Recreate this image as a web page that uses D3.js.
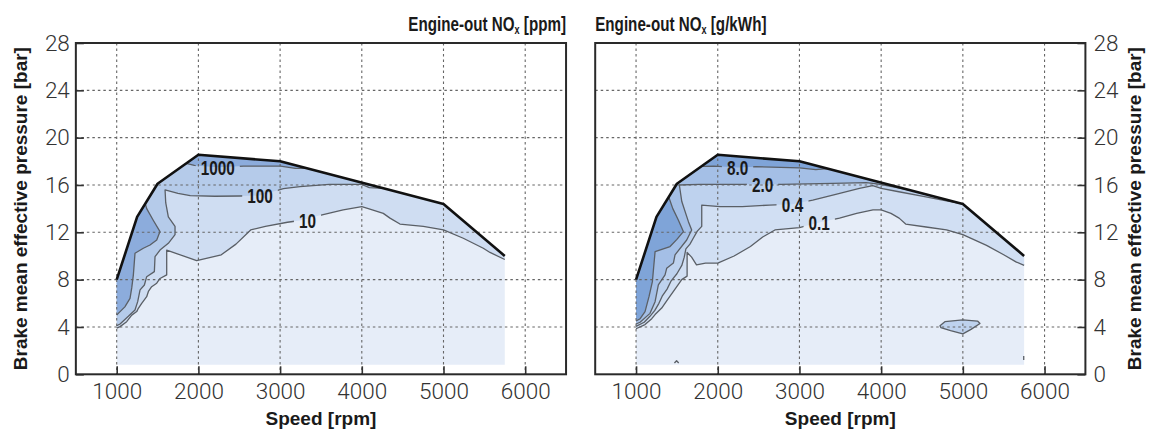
<!DOCTYPE html>
<html>
<head>
<meta charset="utf-8">
<script src="https://cdn.jsdelivr.net/npm/d3@7"></script>
<style>
  body { margin: 0; background: #fff; }
  svg { display: block; }
</style>
</head>
<body>
<svg id="chart" width="1155" height="430"></svg>
<script>
// ---- Engine map envelope (speed [rpm], BMEP [bar]) ----
const fullLoad = [[1000, 8.0], [1250, 13.3], [1500, 16.1], [2000, 18.55], [3000, 18.0], [5000, 14.4], [5750, 10.0]];
const mapFloor = 0.8;
const speedTicks = [1000, 2000, 3000, 4000, 5000, 6000];
const bmepTicks = [0, 4, 8, 12, 16, 20, 24, 28];

// ---- Engine-out NOx [ppm] iso-lines ----
const ppm10 = [[1000, 3.9], [1041, 4.03], [1122, 4.45], [1184, 5.0], [1245, 5.3], [1265, 5.58], [1306, 6.0], [1367, 6.56], [1388, 7.0], [1428, 7.4], [1490, 7.7], [1530, 8.1], [1612, 8.4], [1612, 10.5], [1979, 9.6], [2280, 10.1], [2460, 11.0], [2640, 12.2], [2820, 12.5], [3090, 12.85], [3244, 13.0], [3527, 13.5], [3772, 13.9], [4000, 14.17], [4080, 14.0], [4263, 13.6], [4345, 13.2], [4467, 12.7], [4753, 12.5], [5000, 12.2], [5242, 11.5], [5487, 10.65], [5569, 10.3], [5750, 9.7]];
const ppm100 = [[1000, 4.1], [1041, 4.25], [1143, 4.9], [1224, 5.44], [1257, 6.14], [1286, 7.13], [1339, 7.55], [1367, 8.25], [1461, 8.68], [1469, 9.94], [1530, 10.5], [1632, 11.07], [1714, 11.8], [1714, 12.5], [1632, 13.3], [1600, 14.5], [1592, 15.58], [1750, 15.3], [1900, 15.1], [2200, 15.05], [2509, 15.07], [2754, 15.11], [3040, 15.7], [3244, 15.86], [3600, 16.05], [4000, 16.05], [4092, 15.77], [4272, 15.71]];
const ppm1000Low = [[1350, 14.42], [1367, 14.0], [1449, 13.0], [1530, 12.06], [1490, 11.35], [1408, 10.93], [1326, 10.65], [1224, 10.23], [1204, 8.4], [1184, 7.3], [1163, 6.42], [1100, 5.7], [1020, 5.15], [1000, 5.0]];
const ppm1000Top = [[1850, 17.82], [1950, 17.65], [2237, 17.5], [2555, 17.6], [3006, 17.6], [3187, 17.4], [3330, 17.41]];
const ppmLabels = ["10", "100", "1000"];
const ppmLabelAt = [[3335, 13.04], [2754, 15.11], [2237, 17.48]];
const ppmColors = ["#e6edf8", "#cfddf2", "#b5cbea", "#8cacdc"];

// ---- Engine-out NOx [g/kWh] iso-lines ----
const gkwh01 = [[1000, 3.85], [1110, 4.2], [1192, 4.7], [1233, 5.05], [1314, 5.6], [1375, 6.2], [1477, 7.2], [1559, 8.0], [1625, 8.3], [1625, 10.3], [1680, 9.9], [1740, 9.25], [1850, 9.4], [2000, 9.4], [2200, 10.0], [2400, 10.8], [2550, 11.6], [2700, 12.2], [3000, 12.4], [3242, 12.83], [3490, 13.2], [3700, 13.6], [3900, 13.9], [4000, 13.9], [4120, 13.6], [4220, 13.2], [4300, 12.7], [4550, 12.45], [4800, 12.2], [5000, 11.8], [5290, 10.9], [5500, 10.1], [5650, 9.5], [5750, 9.2]];
const gkwh01Island = [[4720, 4.1], [4780, 4.45], [5000, 4.6], [5180, 4.5], [5210, 4.3], [5100, 3.8], [5000, 3.42], [4850, 3.7], [4730, 3.95]];
const gkwh01Bits = [[[1470, 0.95], [1496, 1.15], [1522, 0.95]], [[5745, 1.2], [5745, 1.55]]];
const gkwh04 = [[1000, 4.05], [1100, 4.4], [1170, 4.9], [1230, 5.4], [1280, 6.0], [1320, 6.6], [1380, 7.2], [1430, 7.9], [1500, 8.5], [1560, 9.2], [1590, 9.9], [1610, 10.6], [1660, 11.0], [1700, 11.5], [1750, 12.1], [1804, 12.5], [1804, 14.3], [2028, 14.17], [2300, 14.17], [2632, 14.3], [2915, 14.38], [3163, 14.73], [3408, 15.15], [3734, 15.72], [3897, 15.94], [4000, 15.72], [4200, 15.45], [4500, 15.05], [4800, 14.65], [5000, 14.4]];
const gkwh20 = [[1000, 4.25], [1049, 4.4], [1171, 5.15], [1233, 6.14], [1273, 7.55], [1355, 8.4], [1375, 8.96], [1457, 9.4], [1477, 10.1], [1620, 11.35], [1681, 12.2], [1641, 12.9], [1560, 14.6], [1530, 16.0], [1776, 16.06], [2306, 16.06], [2548, 16.07], [2775, 16.06], [3408, 16.14], [3816, 16.2], [3950, 16.1], [4100, 15.9], [4350, 15.57]];
const gkwh80Low = [[1400, 14.98], [1450, 14.0], [1520, 13.0], [1579, 12.06], [1500, 11.4], [1416, 10.8], [1233, 10.37], [1215, 9.0], [1200, 7.83], [1160, 6.6], [1110, 5.3], [1050, 4.7], [1000, 4.5]];
const gkwh80Top = [[1800, 17.57], [1950, 17.6], [2242, 17.48], [2470, 17.55], [3000, 17.45], [3200, 17.3], [3340, 17.39]];
const gkwhLabels = ["0.1", "0.4", "2.0", "8.0"];
const gkwhLabelAt = [[3242, 12.83], [2915, 14.38], [2548, 16.07], [2242, 17.48]];
const gkwhColors = ["#e6edf8", "#d1dff3", "#bed2ee", "#a4bfe6", "#7fa4d8"];

// ---- layout ----
const plotTop = 43, plotBottom = 374.3, plotWidth = 490.2;
const svg = d3.select("#chart");
const defs = svg.append("defs");
const boldFont = "'Liberation Sans', Arial, sans-serif";

// close an iso-line along the full-load curve to get the region above it
function closeOnEnvelope(line) {
  const a = line[0][0], b = line[line.length - 1][0];
  const lo = Math.min(a, b), hi = Math.max(a, b);
  let env = fullLoad.filter(p => p[0] >= lo && p[0] <= hi);
  if (b > a) env = env.slice().reverse();
  return line.concat(env);
}

function drawPanel(cfg) {
  const x = d3.scaleLinear().domain([500, 6500]).range([cfg.left, cfg.left + plotWidth]);
  const y = d3.scaleLinear().domain([0, 28]).range([plotBottom, plotTop]);
  const path = d3.line().x(d => x(d[0])).y(d => y(d[1]));
  const g = svg.append("g");

  // operating area fill
  const base = [[fullLoad[0][0], mapFloor]].concat(fullLoad, [[fullLoad[fullLoad.length - 1][0], mapFloor]]);
  g.append("path").attr("d", path(base) + "Z").attr("fill", cfg.colors[0]);
  cfg.regions.forEach(r => {
    g.append("path").attr("d", path(closeOnEnvelope(r.line)) + "Z").attr("fill", cfg.colors[r.level]);
  });
  (cfg.islands || []).forEach(r => {
    g.append("path").attr("d", path(r.line) + "Z").attr("fill", cfg.colors[r.level]);
  });

  // grid
  const grid = g.append("g").attr("stroke", "#666").attr("stroke-width", 1.1)
    .attr("stroke-dasharray", "2.5,3");
  speedTicks.forEach(v => grid.append("line")
    .attr("x1", x(v)).attr("x2", x(v)).attr("y1", plotTop).attr("y2", plotBottom));
  bmepTicks.filter(v => v > 0 && v < 28).forEach(v => grid.append("line")
    .attr("x1", cfg.left).attr("x2", cfg.left + plotWidth).attr("y1", y(v)).attr("y2", y(v)));

  // iso-line labels (placed first so the lines can be cut around them)
  const labelG = svg.append("g");
  const mask = defs.append("mask").attr("id", cfg.id + "-cut")
    .attr("maskUnits", "userSpaceOnUse").attr("x", 0).attr("y", 0).attr("width", 1155).attr("height", 430);
  mask.append("rect").attr("width", 1155).attr("height", 430).attr("fill", "#fff");
  cfg.labels.forEach((txt, i) => {
    const cx = x(cfg.labelAt[i][0]), cy = y(cfg.labelAt[i][1]);
    const lg = labelG.append("g").attr("transform", `translate(${cx},${cy}) scale(0.73,1)`);
    const t = lg.append("text").attr("text-anchor", "middle").attr("dy", "0.36em")
      .attr("font-family", boldFont).attr("font-weight", "bold")
      .attr("font-size", 21).attr("fill", "#1a1a1a").text(txt);
    const w = t.node().getBBox().width * 0.73;
    mask.append("rect").attr("x", cx - w / 2 - 5).attr("y", cy - 9).attr("width", w + 10).attr("height", 18).attr("fill", "#000");
  });

  // iso-lines
  const lines = g.append("g").attr("mask", `url(#${cfg.id}-cut)`)
    .attr("fill", "none").attr("stroke", "#5a5f66").attr("stroke-width", 1.3).attr("stroke-linejoin", "round");
  cfg.regions.forEach(r => lines.append("path").attr("d", path(r.line)));
  (cfg.islands || []).forEach(r => lines.append("path").attr("d", path(r.line) + "Z"));
  (cfg.bits || []).forEach(b => lines.append("path").attr("d", path(b)));

  // full-load line
  g.append("path").attr("d", path(fullLoad)).attr("fill", "none")
    .attr("stroke", "#111").attr("stroke-width", 2.6).attr("stroke-linejoin", "round");

  labelG.raise();

  // axes
  const tickFont = sel => sel.selectAll("text")
    .attr("font-family", "Roboto, 'Open Sans', sans-serif").attr("font-weight", 300)
    .attr("font-size", 22.5).attr("fill", "#333");
  const styleTicks = sel => {
    sel.select(".domain").remove();
    sel.selectAll(".tick line").attr("stroke", "#333").attr("stroke-width", 1.6);
  };
  const fmt = d3.format("d");
  const xa = svg.append("g").attr("transform", `translate(0,${plotBottom})`)
    .call(d3.axisBottom(x).tickValues(speedTicks).tickFormat(fmt).tickSizeInner(-8).tickSizeOuter(0).tickPadding(9));
  styleTicks(xa); tickFont(xa);

  if (cfg.side === "left") {
    const ya = svg.append("g").attr("transform", `translate(${cfg.left},0)`)
      .call(d3.axisLeft(y).tickValues(bmepTicks).tickFormat(fmt).tickSizeInner(-8).tickSizeOuter(0).tickPadding(6));
    styleTicks(ya); tickFont(ya);
  } else {
    const ya = svg.append("g").attr("transform", `translate(${cfg.left + plotWidth},0)`)
      .call(d3.axisRight(y).tickValues(bmepTicks).tickFormat(fmt).tickSizeInner(-8).tickSizeOuter(0).tickPadding(8));
    styleTicks(ya); tickFont(ya);
  }

  // frame
  svg.append("rect").attr("x", cfg.left).attr("y", plotTop).attr("width", plotWidth).attr("height", plotBottom - plotTop)
    .attr("fill", "none").attr("stroke", "#2a2a2a").attr("stroke-width", 2);

  // axis titles
  svg.append("text").attr("x", cfg.left + plotWidth / 2).attr("y", 425).attr("text-anchor", "middle")
    .attr("font-family", boldFont).attr("font-weight", "bold")
    .attr("font-size", 19).attr("fill", "#1a1a1a").text("Speed [rpm]");
  const yx = cfg.side === "left" ? 27 : 1141;
  svg.append("text").attr("transform", `translate(${yx},${(plotTop + plotBottom) / 2}) rotate(-90)`)
    .attr("text-anchor", "middle")
    .attr("font-family", boldFont).attr("font-weight", "bold")
    .attr("font-size", 19).attr("fill", "#1a1a1a").text("Brake mean effective pressure [bar]");

  // panel title
  const tx = cfg.side === "left" ? cfg.left + plotWidth : cfg.left;
  const tg = svg.append("g").attr("transform", `translate(${tx},31) scale(0.76,1)`);
  const tt = tg.append("text").attr("text-anchor", cfg.side === "left" ? "end" : "start")
    .attr("font-family", boldFont).attr("font-weight", "bold")
    .attr("font-size", 20).attr("fill", "#1a1a1a");
  tt.append("tspan").text("Engine-out NO");
  tt.append("tspan").attr("font-size", 12).attr("dy", 3).text("x");
  tt.append("tspan").attr("dy", -3).text(" " + cfg.unit);
}

drawPanel({
  id: "ppm", side: "left", left: 75.85, unit: "[ppm]", colors: ppmColors,
  regions: [{ line: ppm10, level: 1 }, { line: ppm100, level: 2 }, { line: ppm1000Low, level: 3 }, { line: ppm1000Top, level: 3 }],
  labels: ppmLabels, labelAt: ppmLabelAt
});

drawPanel({
  id: "gkwh", side: "right", left: 595.2, unit: "[g/kWh]", colors: gkwhColors,
  regions: [{ line: gkwh01, level: 1 }, { line: gkwh04, level: 2 }, { line: gkwh20, level: 3 }, { line: gkwh80Low, level: 4 }, { line: gkwh80Top, level: 4 }],
  islands: [{ line: gkwh01Island, level: 2 }],
  bits: gkwh01Bits,
  labels: gkwhLabels, labelAt: gkwhLabelAt
});
</script>
</body>
</html>
